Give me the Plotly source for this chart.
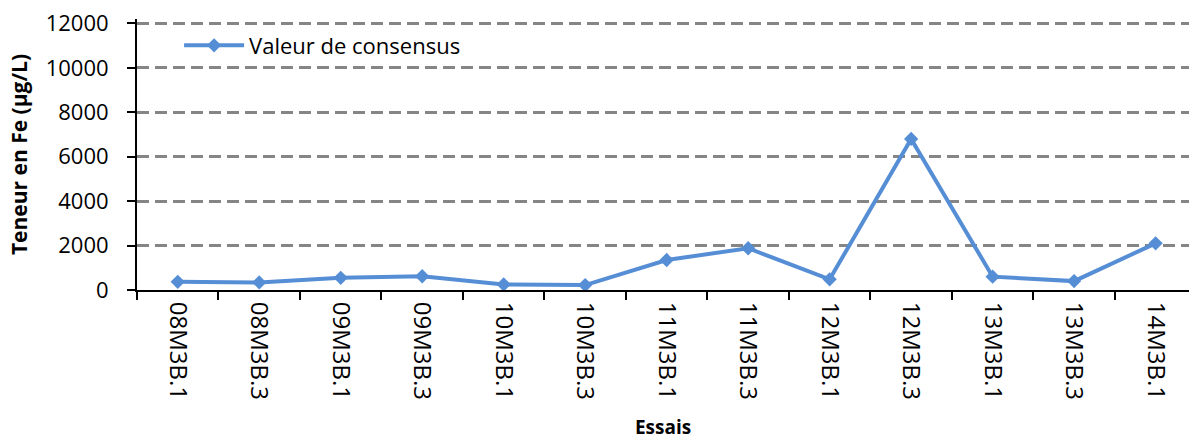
import plotly.graph_objects as go

# Essais (interlaboratory rounds) and consensus values for iron
essais = ["08M3B.1", "08M3B.3", "09M3B.1", "09M3B.3", "10M3B.1", "10M3B.3",
          "11M3B.1", "11M3B.3", "12M3B.1", "12M3B.3", "13M3B.1", "13M3B.3",
          "14M3B.1"]
consensus = [370, 340, 550, 620, 250, 220, 1350, 1880, 480, 6800, 600, 400, 2100]

y_ticks = [0, 2000, 4000, 6000, 8000, 10000, 12000]

FONT = "Open Sans"
BLUE = "#568ED6"

fig = go.Figure()
fig.add_trace(go.Scatter(
    x=essais,
    y=consensus,
    mode="lines+markers",
    name="Valeur de consensus",
    line=dict(color=BLUE, width=4),
    marker=dict(symbol="diamond", size=11, color=BLUE),
))

fig.update_layout(
    width=1189,
    height=442,
    margin=dict(l=137, r=0, t=18.5, b=152),
    paper_bgcolor="white",
    plot_bgcolor="white",
    font=dict(family=FONT, color="black", size=21),
    showlegend=True,
    legend=dict(
        x=0.04, y=0.902, xanchor="left", yanchor="middle",
        bgcolor="rgba(0,0,0,0)",
        font=dict(family=FONT, size=22, color="black"),
        itemwidth=60,
    ),
    xaxis=dict(
        type="category",
        range=[-0.5, 12.41],
        showline=True, linecolor="black", linewidth=2,
        ticks="outside", ticklen=8, tickwidth=1.5, tickcolor="black",
        tickson="boundaries",
        tickangle=90,
        ticklabelstandoff=5,
        tickfont=dict(family=FONT, size=24),
        showgrid=False,
        title=dict(text="<b>Essais</b>", font=dict(family=FONT, size=19), standoff=22),
    ),
    yaxis=dict(
        range=[0, 12200],
        tickvals=y_ticks,
        ticktext=[str(v) for v in y_ticks],
        showline=True, linecolor="black", linewidth=2,
        ticks="outside", ticklen=8, tickwidth=1.5, tickcolor="black",
        ticklabelstandoff=14,
        tickfont=dict(family=FONT, size=22),
        showgrid=True, gridcolor="#858585", gridwidth=2.5, griddash="12px,6px",
        zeroline=False,
        title=dict(text="<b>Teneur en Fe (µg/L)</b>", font=dict(family=FONT, size=21), standoff=12),
    ),
)

fig.write_html("out.html")
